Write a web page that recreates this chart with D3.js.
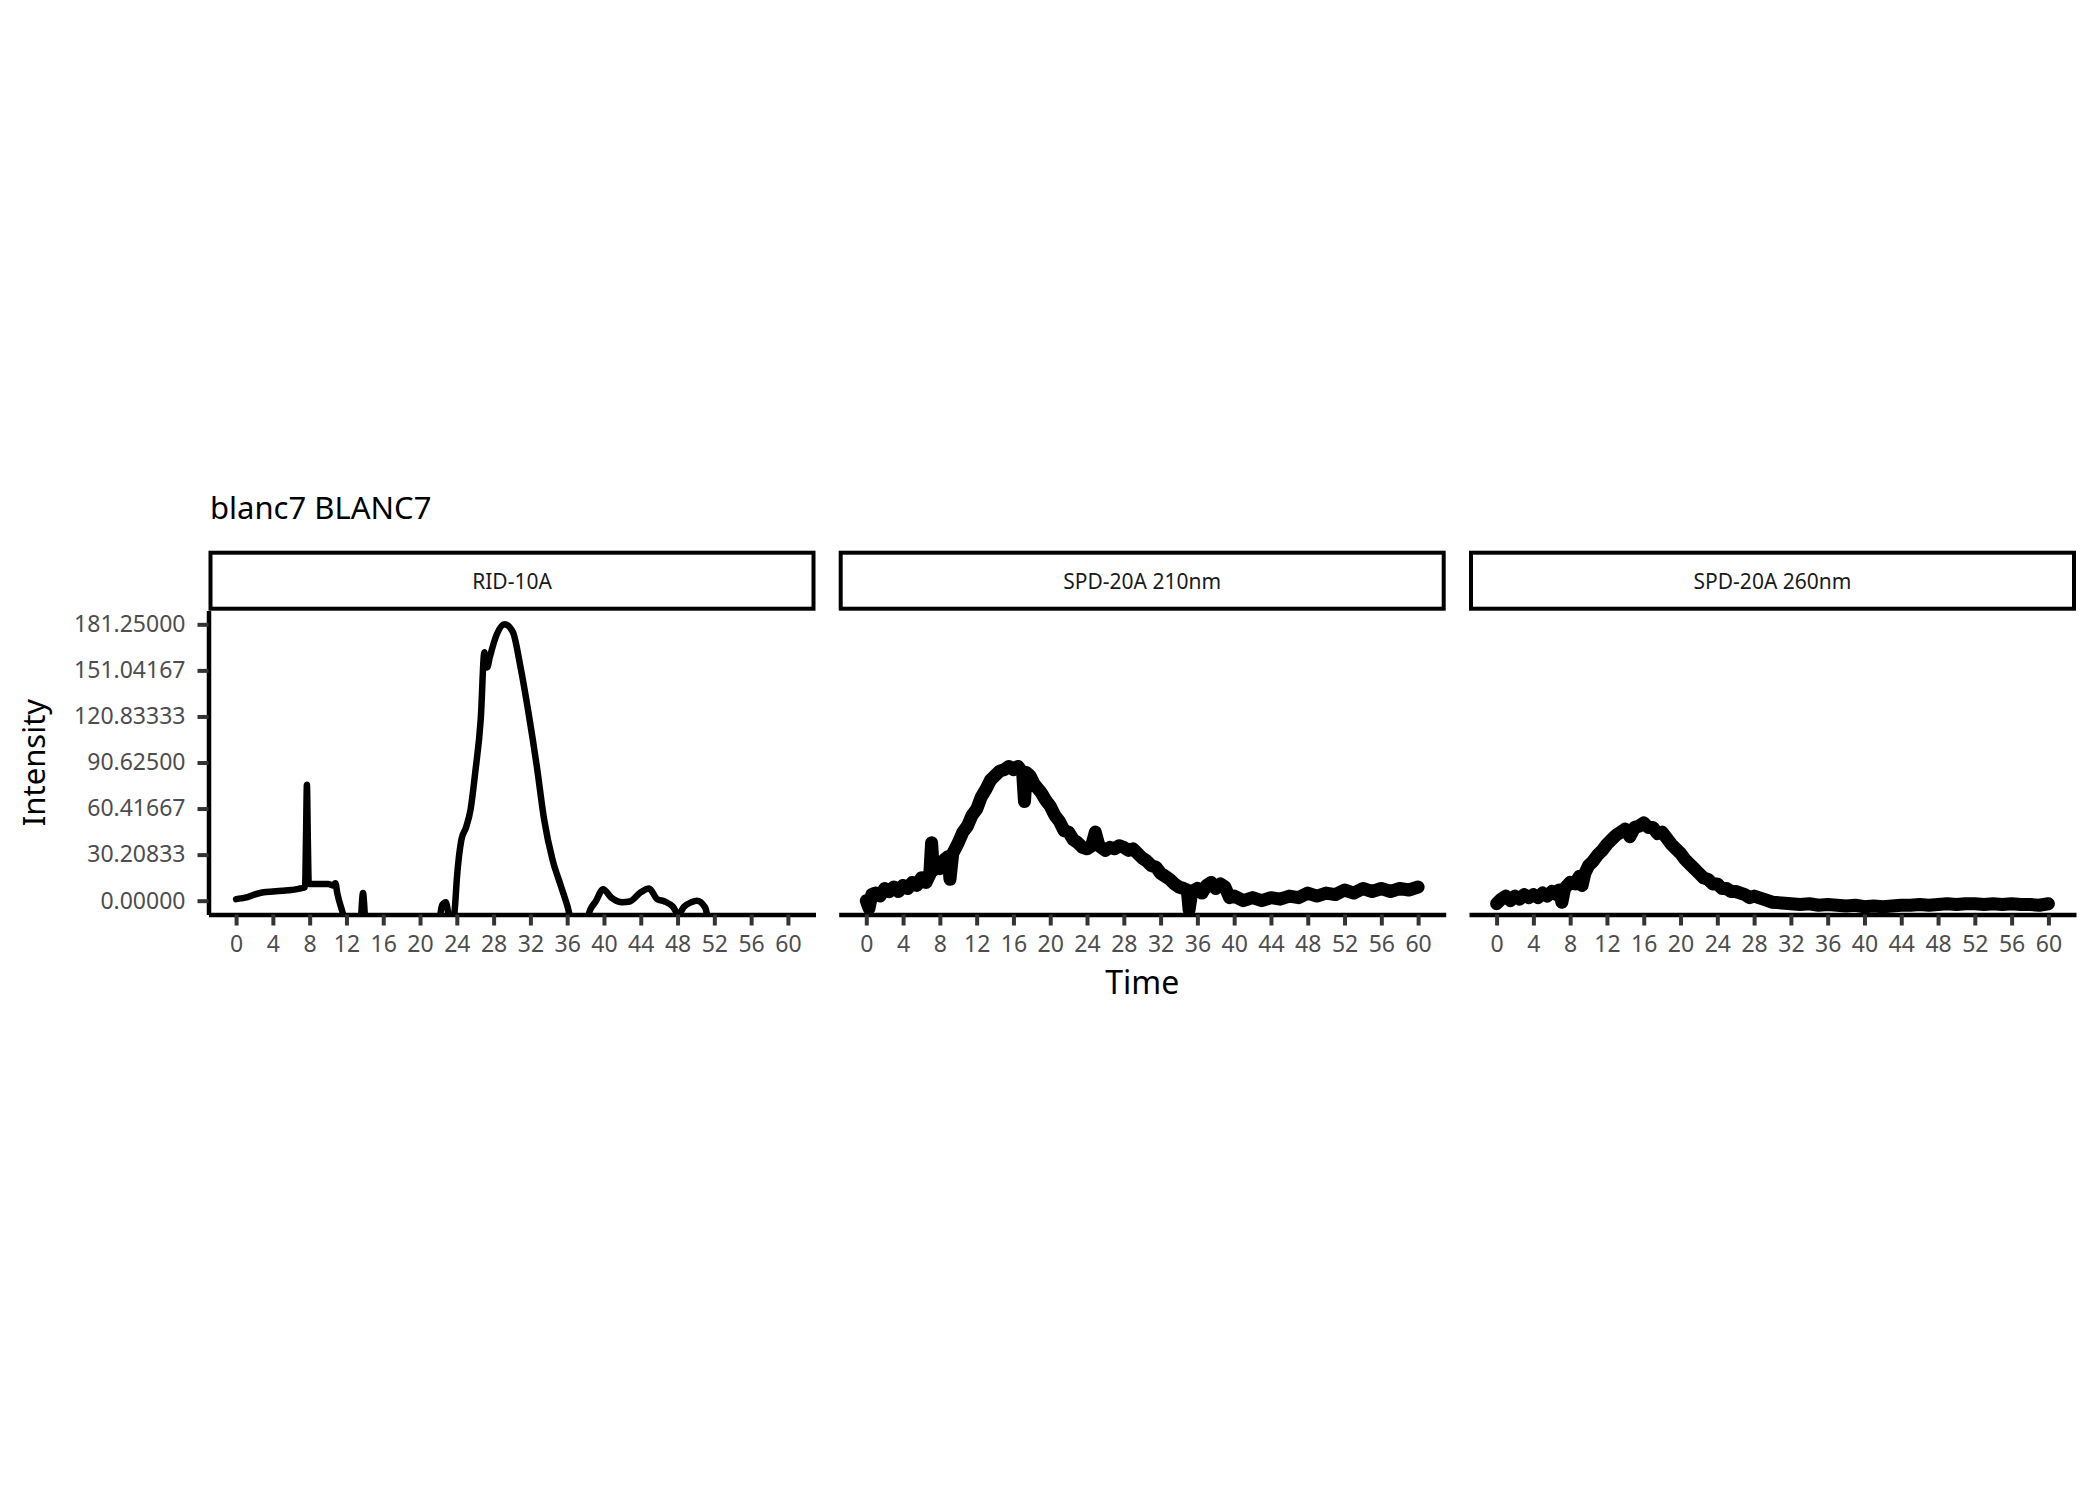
<!DOCTYPE html>
<html>
<head>
<meta charset="utf-8">
<script src="https://cdn.jsdelivr.net/npm/d3@7"></script>
<style>
  body { margin: 0; background: #fff; }
  text { font-family: "Noto Sans", "Open Sans", sans-serif; }
</style>
</head>
<body>
<div id="chart"></div>
<script>
// panels and axis breaks
const panelNames = ["RID-10A", "SPD-20A 210nm", "SPD-20A 260nm"]
const xTicks = [0, 4, 8, 12, 16, 20, 24, 28, 32, 36, 40, 44, 48, 52, 56, 60]
const yTicks = [0, 30.20833, 60.41667, 90.625, 120.83333, 151.04167, 181.25]

// RID-10A trace
const ridTime  = [0, 0.5, 1, 2, 3, 4, 5, 6, 7, 7.5, 7.6, 7.7, 7.8, 7.9, 8.5, 9, 10, 10.5, 10.8, 11,
                  11.5, 12, 13.5, 13.8, 14.1, 22, 22.4, 22.8, 23.2, 23.6, 23.8, 24, 24.5, 25, 25.5, 26, 26.6, 27, 27.3, 27.6,
                  28.3, 29.2, 30.1, 30.9, 31.8, 32.7, 33.5, 34.4, 35.3, 36, 36.6, 38, 38.5, 39.1, 39.9, 40.8, 42, 42.8, 44, 44.9,
                  45.8, 46.6, 47.5, 48.1, 48.7, 49.5, 50.1, 51, 51.5, 60]
const ridValue = [1, 1.5, 2, 4, 5.5, 6, 6.5, 7, 8, 9, 40, 76, 40, 11, 11, 11, 11, 10, 11.5, 5,
                  -6, -15, -15, 5, -15, -15, -3, -1, -12, -15, -4, 14, 40, 48, 60, 84, 119, 163, 153, 160,
                  174, 181.25, 176, 154, 123, 88, 53, 27, 10, -3, -15, -15, -6, -0.5, 7.5, 2, -1, -0.5, 5.5, 8,
                  1, -0.5, -4, -9, -4, -1, 0, -4.5, -15, -15]

// SPD-20A 210nm trace
const spd210Time  = [0, 0.3, 0.6, 1, 1.5, 2, 2.5, 3, 3.5, 4, 4.5, 5, 5.5, 6, 6.5, 6.9, 7.1, 7.3, 7.6, 8,
                     8.5, 8.9, 9.1, 9.4, 10, 10.5, 11, 11.5, 12, 12.5, 13, 13.5, 14, 14.5, 15, 15.5, 16, 16.5, 17, 17.2,
                     17.4, 17.8, 18.3, 19, 19.5, 20, 20.5, 21, 21.5, 22, 22.5, 23, 23.5, 24, 24.5, 24.9, 25.3, 26, 26.5, 27,
                     27.5, 28, 28.5, 29, 29.5, 30, 30.5, 31, 31.5, 32, 32.5, 33, 33.5, 34, 34.5, 34.9, 35.1, 35.4, 36, 36.5,
                     37, 37.5, 38, 38.5, 39, 39.5, 40, 41, 42, 43, 44, 45, 46, 47, 48, 49, 50, 51, 52, 53,
                     54, 55, 56, 57, 58, 59, 60]
const spd210Value = [0, -5, 4, 5, 3, 8, 6, 9, 6, 10, 8, 12, 10, 15, 12, 17, 38, 20, 24, 21,
                     27, 29, 14, 31, 38, 45, 49, 56, 60, 68, 73, 79, 82, 85, 86, 88, 86, 88, 84, 65,
                     84, 82, 76, 71, 66, 62, 56, 52, 46, 45, 40, 38, 35, 34, 36, 45, 36, 33, 35, 34,
                     36, 35, 33, 34, 31, 28, 26, 23, 22, 18, 16, 14, 11, 9, 8, 7, -6, 6, 8, 5,
                     10, 12, 8, 11, 9, 2, 3, 0, 2, 0, 2, 1, 3, 2, 5, 3, 5, 4, 7, 5,
                     8, 6, 8, 6, 8, 7, 9]

// SPD-20A 260nm trace
const spd260Time  = [0, 0.5, 1, 1.5, 2, 2.5, 3, 3.5, 4, 4.5, 5, 5.5, 6, 6.5, 6.8, 7.1, 7.4, 8, 8.5, 9,
                     9.3, 9.6, 10, 10.5, 11, 11.5, 12, 12.5, 13, 13.5, 14, 14.5, 15, 15.5, 16, 16.5, 17, 17.5, 18, 18.5,
                     19, 19.5, 20, 20.5, 21, 21.5, 22, 22.5, 23, 23.5, 24, 24.5, 25, 25.5, 26, 27, 27.5, 28, 29, 30,
                     31, 32, 33, 34, 35, 36, 37, 38, 39, 40, 41, 42, 43, 44, 45, 46, 47, 48, 49, 50,
                     51, 52, 53, 54, 55, 56, 57, 58, 59, 60]
const spd260Value = [-2, 1, 3, 0, 3, 1, 4, 2, 4, 2, 5, 3, 6, 4, 7, -1, 8, 12, 11, 16,
                     10, 18, 23, 26, 30, 33, 37, 40, 43, 45, 47, 42, 48, 49, 51, 48, 48, 44, 45, 41,
                     37, 34, 31, 27, 24, 21, 18, 15, 14, 11, 11, 8, 8, 6, 6, 4, 2, 3, 1, -1,
                     -1.5, -2, -2.5, -2, -3, -2.5, -3, -3.5, -3, -4, -3.5, -4, -3.5, -3, -3, -2.5, -3, -2.5, -2, -2.5,
                     -2, -2, -2.5, -2, -2.5, -2, -2.5, -2.5, -3, -2]

const series = [
  { time: ridTime, value: ridValue, width: 6.5, curve: d3.curveMonotoneX },
  { time: spd210Time, value: spd210Value, width: 13, curve: d3.curveLinear },
  { time: spd260Time, value: spd260Value, width: 13, curve: d3.curveLinear }
]

// layout
const W = 2100, H = 1499
const panelW = 607
const panelLefts = [208.5, 838.7, 1469]
const panelTop = 610.5, panelBottom = 914.5
const panelH = panelBottom - panelTop

const svg = d3.select("#chart").append("svg")
    .attr("width", W)
    .attr("height", H)
    .style("background", "#fff")

const x = d3.scaleLinear().domain([-3, 63]).range([0, panelW])
const y = d3.scaleLinear().domain([-9.0625, 190.3125]).range([panelH, 0])

// title
svg.append("text")
    .attr("x", 210)
    .attr("y", 519)
    .style("font-size", "31px")
    .style("fill", "#000")
    .text("blanc7 BLANC7")

panelNames.forEach((name, i) => {
    const left = panelLefts[i]
    const g = svg.append("g").attr("transform", "translate(" + left + "," + panelTop + ")")

    g.append("clipPath").attr("id", "clip" + i)
        .append("rect").attr("width", panelW).attr("height", panelH)

    // strip
    g.append("rect")
        .attr("x", 2)
        .attr("y", 552.7 - panelTop)
        .attr("width", panelW - 4)
        .attr("height", 56)
        .style("fill", "#fff")
        .style("stroke", "#000")
        .style("stroke-width", 4)

    g.append("text")
        .attr("x", panelW / 2)
        .attr("y", 580.5 - panelTop)
        .attr("text-anchor", "middle")
        .attr("dominant-baseline", "central")
        .style("font-size", "21px")
        .style("fill", "#1A1A1A")
        .text(name)

    // trace
    const s = series[i]
    const pts = s.time.map((t, k) => [t, s.value[k]])
    const line = d3.line()
        .x(d => x(d[0]))
        .y(d => y(d[1]))
        .curve(s.curve)
    g.append("path")
        .datum(pts)
        .attr("clip-path", "url(#clip" + i + ")")
        .attr("d", line)
        .style("fill", "none")
        .style("stroke", "#000")
        .style("stroke-width", s.width)
        .style("stroke-linejoin", "round")
        .style("stroke-linecap", "round")

    // x axis
    const xAxis = d3.axisBottom(x)
        .tickValues(xTicks)
        .tickSize(11)
        .tickPadding(10)
        .tickSizeOuter(0)

    const gx = g.append("g")
        .attr("transform", "translate(0," + panelH + ")")
        .call(xAxis)
    gx.select(".domain").style("stroke", "#000").style("stroke-width", 4.5)
    gx.selectAll(".tick line").style("stroke", "#333").style("stroke-width", 4)
    gx.selectAll(".tick text")
        .style("font-size", "23px")
        .style("fill", "#4D4D4D")
        .style("font-family", "'Noto Sans', sans-serif")

    // y axis only on the first panel
    if (i === 0) {
        const yAxis = d3.axisLeft(y)
            .tickValues(yTicks)
            .tickFormat(d3.format(".5f"))
            .tickSize(11)
            .tickPadding(12)
            .tickSizeOuter(0)
        const gy = g.append("g").call(yAxis)
        gy.select(".domain").style("stroke", "#000").style("stroke-width", 4.5)
        gy.selectAll(".tick line").style("stroke", "#333").style("stroke-width", 4)
        gy.selectAll(".tick text")
            .style("font-size", "23px")
            .style("fill", "#4D4D4D")
            .style("font-family", "'Noto Sans', sans-serif")
    }
})

// axis titles
svg.append("text")
    .attr("x", panelLefts[1] + panelW / 2)
    .attr("y", 994)
    .attr("text-anchor", "middle")
    .style("font-size", "32px")
    .style("fill", "#000")
    .text("Time")

svg.append("text")
    .attr("transform", "translate(45,762.5) rotate(-90)")
    .attr("text-anchor", "middle")
    .style("font-size", "31px")
    .style("fill", "#000")
    .text("Intensity")
</script>
</body>
</html>
